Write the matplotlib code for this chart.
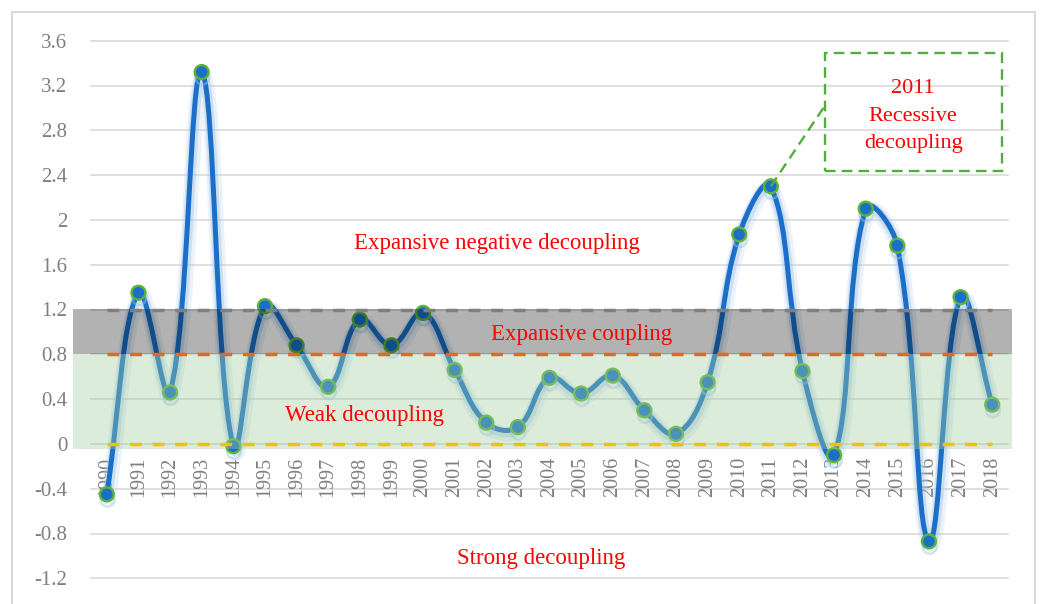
import numpy as np
import matplotlib
matplotlib.use("Agg")
import matplotlib.pyplot as plt
from matplotlib.path import Path
from matplotlib.patches import PathPatch, Rectangle
import matplotlib.patheffects as pe

# ---------------- data ----------------
years = [str(y) for y in range(1990, 2019)]
values = [-0.45, 1.35, 0.46, 3.32, -0.02, 1.23, 0.88, 0.51, 1.11, 0.88,
          1.17, 0.66, 0.19, 0.15, 0.59, 0.45, 0.61, 0.30, 0.09, 0.55,
          1.87, 2.30, 0.65, -0.10, 2.10, 1.77, -0.87, 1.31, 0.35]
y_ticks = [-1.2, -0.8, -0.4, 0.0, 0.4, 0.8, 1.2, 1.6, 2.0, 2.4, 2.8, 3.2, 3.6]
y_tick_labels = ["-1.2", "-0.8", "-0.4", "0", "0.4", "0.8", "1.2", "1.6",
                 "2", "2.4", "2.8", "3.2", "3.6"]
threshold_values = [0.0, 0.8, 1.2]
threshold_colors = ["#f2c000", "#e2691d", "#7f7f7f"]
zone_names = ["Expansive negative decoupling", "Expansive coupling",
              "Weak decoupling", "Strong decoupling"]
highlight_year = "2011"
highlight_lines = ["2011", "Recessive", "decoupling"]

plt.rcParams["font.family"] = ["Liberation Serif", "DejaVu Serif"]

W, H = 1040, 604
fig = plt.figure(figsize=(W / 100, H / 100), dpi=100)
fig.patch.set_facecolor("white")

# outer chart border
fig.add_artist(Rectangle((12 / W, -0.02), (1035 - 12) / W, (H - 12) / H + 0.02,
                         transform=fig.transFigure, fill=False,
                         edgecolor="#d9d9d9", lw=1.5))

left, right, top, bottom = 91, 1008, 40.7, 578.3
ax = fig.add_axes([left / W, 1 - bottom / H, (right - left) / W, (bottom - top) / H])
n = len(years)
x = np.arange(n)
ax.set_xlim(-0.5, n - 0.5)
ax.set_ylim(-1.2, 3.6)
for s in ax.spines.values():
    s.set_visible(False)
ax.set_xticks([])
ax.set_yticks(y_ticks)
ax.set_yticklabels(y_tick_labels)
ax.tick_params(axis="y", length=0, pad=17, labelsize=15, labelcolor="#7f7f7f")
ax.patch.set_alpha(0)

# gridlines
for t in y_ticks:
    ax.axhline(t, color="#d9d9d9", lw=1.2, zorder=0, clip_on=False)

# year labels at the y=0 crossing
for i, lab in enumerate(years):
    ax.annotate(lab, (i, 0), xytext=(0, -9.5), textcoords="offset points",
                rotation=90, ha="center", va="top", fontsize=14.5,
                color="#7f7f7f", zorder=1)

# smoothed line: cubic Bezier through the data points with chord-length
# scaled tangents (computed in pixel space, Excel-like smoothing)
px_per_x = (right - left) / n
px_per_y = (bottom - top) / 4.8
pts = np.column_stack([x, values]).astype(float)
ppx = pts * np.array([px_per_x, px_per_y])
ext = np.vstack([pts[0], pts, pts[-1]])
extp = np.vstack([ppx[0], ppx, ppx[-1]])
tension = 0.4
cin, cout = [], []
for k in range(n):
    p0, p1, p2 = ext[k], ext[k + 1], ext[k + 2]
    q0, q1, q2 = extp[k], extp[k + 1], extp[k + 2]
    d01 = np.hypot(*(q1 - q0))
    d12 = np.hypot(*(q2 - q1))
    tot = d01 + d12 if d01 + d12 > 0 else 1.0
    fa = tension * d01 / tot
    fb = tension * d12 / tot
    cin.append(p1 - fa * (p2 - p0))
    cout.append(p1 + fb * (p2 - p0))
verts = [tuple(pts[0])]
codes = [Path.MOVETO]
for k in range(n - 1):
    verts += [tuple(cout[k]), tuple(cin[k + 1]), tuple(pts[k + 1])]
    codes += [Path.CURVE4] * 3
curve = PathPatch(Path(verts, codes), facecolor="none", edgecolor="#1b6fc8",
                  lw=3.6, zorder=2, capstyle="round", joinstyle="round")
curve.set_path_effects([
    pe.Stroke(linewidth=11, foreground="#bdd7ee", alpha=0.3, offset=(1, -2.5)),
    pe.Stroke(linewidth=7, foreground="#9dc3e6", alpha=0.4, offset=(0.5, -1.5)),
    pe.Normal()])
ax.add_patch(curve)

ax.plot(x, values, "o", ms=10, mfc="#1b6fc8", mec="#5cb335", mew=1.7, zorder=3,
        path_effects=[pe.SimpleLineShadow(offset=(0.5, -4), shadow_color="#9dc3e6",
                                          alpha=0.45), pe.Normal()])

# translucent bands on top of the line
xl, xr = -1.07, n - 0.5 + 0.13
ax.add_patch(Rectangle((xl, -0.045), xr - xl, threshold_values[1] + 0.045,
                       facecolor=(161 / 255, 206 / 255, 156 / 255), alpha=0.37,
                       edgecolor="none", zorder=4, clip_on=False))
ax.add_patch(Rectangle((xl, threshold_values[1]), xr - xl,
                       threshold_values[2] - threshold_values[1] + 0.005,
                       facecolor="black", alpha=0.30, edgecolor="none",
                       zorder=4, clip_on=False))

# dashed threshold lines
for tv, tc in zip(threshold_values, threshold_colors):
    ax.plot([0, n - 1], [tv, tv], color=tc, lw=2.5, dashes=(3.4, 3.1),
            solid_capstyle="butt", dash_capstyle="butt", zorder=5)

# zone labels
red = "#ff0000"
zone_pos = [(12.35, 1.785), (15.0, 0.975), (8.14, 0.255), (13.72, -1.027)]
for name, (zx, zy) in zip(zone_names, zone_pos):
    ax.text(zx, zy, name, color=red, fontsize=16.5, ha="center",
            va="center", zorder=7)

# highlight box for 2011
hi = years.index(highlight_year)
green = "#52ad3a"
bx0, by0, bx1, by1 = 22.70, 2.438, 28.30, 3.488
ax.add_patch(Rectangle((bx0, by0), bx1 - bx0, by1 - by0, fill=False,
                       edgecolor=green, lw=1.7, linestyle=(0, (4.5, 2.6)),
                       zorder=6, clip_on=False))
ax.plot([hi, bx0], [values[hi], 3.016], color=green, lw=1.7,
        linestyle=(0, (4.5, 2.6)), zorder=6)
for line, by in zip(highlight_lines, [3.132, 2.883, 2.642]):
    ax.text((bx0 + bx1) / 2, by, line, color=red, fontsize=16,
            ha="center", va="baseline", zorder=7)

fig.savefig("out.png", dpi=100)
